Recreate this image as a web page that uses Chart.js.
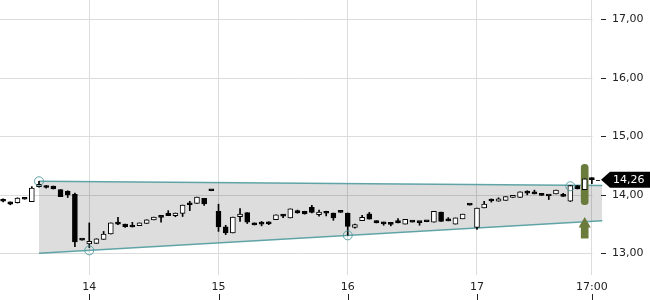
<!DOCTYPE html>
<html>
<head>
<meta charset="utf-8">
<script src="https://cdn.jsdelivr.net/npm/chart.js@4"></script>
<style>
  html, body { margin: 0; padding: 0; background: #fff; }
</style>
</head>
<body>
<canvas id="kurs" width="650" height="300"></canvas>
<script>
// Stundenkerzen (Index 0..82)
const opens = [13.92, 13.88, 13.865, 13.935, 13.885, 14.14, 14.155, 14.15, 14.09, 14.06,
  14.01, 13.235, 13.16, 13.17, 13.24, 13.33, 13.53, 13.50, 13.485, 13.475,
  13.51, 13.57, 13.625, 13.685, 13.645, 13.683, 13.84, 13.855, 13.94, 14.08,
  13.72, 13.455, 13.35, 13.625, 13.695, 13.52, 13.51, 13.54, 13.575, 13.645,
  13.605, 13.73, 13.72, 13.785, 13.66, 13.72, 13.69, 13.71, 13.69, 13.445,
  13.56, 13.675, 13.56, 13.535, 13.505, 13.56, 13.50, 13.545, 13.535, 13.55,
  13.535, 13.705, 13.565, 13.50, 13.59, 13.835, 13.445, 13.775, 13.905, 13.89,
  13.905, 13.955, 13.955, 14.04, 14.05, 14.02, 13.99, 14.015, 13.985, 13.89,
  14.16, 14.09, 14.265];
const highs = [13.93, 13.88, 13.95, 13.935, 14.14, 14.23, 14.16, 14.15, 14.09, 14.07,
  14.03, 13.235, 13.52, 13.25, 13.375, 13.52, 13.615, 13.50, 13.53, 13.52,
  13.575, 13.62, 13.625, 13.73, 13.69, 13.826, 13.89, 13.96, 13.94, 14.08,
  13.84, 13.48, 13.62, 13.765, 13.695, 13.52, 13.545, 13.54, 13.66, 13.665,
  13.76, 13.74, 13.72, 13.82, 13.74, 13.72, 13.69, 13.71, 13.69, 13.50,
  13.65, 13.70, 13.56, 13.535, 13.53, 13.595, 13.58, 13.545, 13.535, 13.55,
  13.72, 13.705, 13.61, 13.605, 13.67, 13.835, 13.775, 13.89, 13.93, 13.95,
  13.97, 13.99, 14.05, 14.07, 14.08, 14.02, 13.99, 14.08, 14.025, 14.16,
  14.16, 14.275, 14.29];
const lows = [13.88, 13.83, 13.86, 13.925, 13.885, 14.13, 14.115, 14.10, 13.97, 13.955,
  13.115, 13.225, 13.10, 13.17, 13.24, 13.33, 13.49, 13.445, 13.45, 13.475,
  13.51, 13.57, 13.535, 13.645, 13.625, 13.63, 13.73, 13.855, 13.82, 14.07,
  13.375, 13.32, 13.35, 13.545, 13.51, 13.485, 13.47, 13.49, 13.575, 13.61,
  13.605, 13.685, 13.67, 13.69, 13.635, 13.64, 13.565, 13.70, 13.31, 13.43,
  13.56, 13.585, 13.52, 13.48, 13.47, 13.52, 13.50, 13.535, 13.48, 13.54,
  13.535, 13.545, 13.555, 13.50, 13.59, 13.825, 13.41, 13.775, 13.875, 13.89,
  13.905, 13.955, 13.955, 14.00, 14.015, 13.99, 13.92, 14.015, 13.975, 13.885,
  14.10, 14.09, 14.19];
const closes = [13.89, 13.84, 13.945, 13.925, 14.115, 14.18, 14.125, 14.10, 13.97, 14.00,
  13.195, 13.225, 13.205, 13.25, 13.33, 13.52, 13.50, 13.455, 13.45, 13.52,
  13.575, 13.62, 13.615, 13.645, 13.69, 13.826, 13.83, 13.96, 13.845, 14.07,
  13.45, 13.35, 13.62, 13.67, 13.535, 13.485, 13.50, 13.505, 13.66, 13.635,
  13.76, 13.69, 13.675, 13.70, 13.705, 13.685, 13.605, 13.70, 13.46, 13.49,
  13.615, 13.585, 13.52, 13.505, 13.495, 13.52, 13.58, 13.535, 13.525, 13.54,
  13.72, 13.545, 13.555, 13.605, 13.67, 13.825, 13.775, 13.843, 13.895, 13.93,
  13.97, 13.99, 14.05, 14.03, 14.015, 13.99, 13.98, 14.08, 13.975, 14.16,
  14.10, 14.275, 14.26];

const dayTicks = [12, 30, 48, 66, 82];
const dayLabels = ["14", "15", "16", "17", "17:00"];
const priceTicks = [13, 14, 15, 16, 17];
const lastPrice = 14.26;

// Trendkanal und Berührungspunkte
const channelTop = [{ x: 5, y: 14.232 }, { x: 83.45, y: 14.16 }];
const channelBottom = [{ x: 5, y: 13.0 }, { x: 83.45, y: 13.558 }];
const touchPoints = [{ x: 5, y: 14.232 }, { x: 12, y: 13.051 }, { x: 48, y: 13.307 }, { x: 79, y: 14.147 }];

// Signal (grüner Balken + Pfeil)
const signalBar = [{ x: 81, y: [13.83, 14.52] }];
const arrowShaft = [{ x: 81, y: [13.26, 13.50] }];
const arrowHead = [{ x: 81, y: 13.502 }];

const wicks = lows.map((l, i) => ({ x: i, y: [l, highs[i]] }));
const bodies = opens.map((o, i) => ({ x: i, y: [o, closes[i]] }));

const fmt = v => v.toFixed(2).replace(".", ",");
const green = "#6b7b3b";
const teal = "rgba(80,155,160,0.9)";

// Gitter, Tick-Striche und Kursmarke
const decor = {
  id: "decor",
  beforeDatasetsDraw(chart) {
    const { ctx, chartArea, scales } = chart;
    const xEnd = Math.round(scales.x.getPixelForValue(82)) + 0.5;
    ctx.save();
    ctx.strokeStyle = "#dcdcdc";
    ctx.lineWidth = 1;
    priceTicks.forEach(v => {
      const y = Math.round(scales.y.getPixelForValue(v)) + 0.5;
      ctx.beginPath();
      ctx.moveTo(chartArea.left, y);
      ctx.lineTo(xEnd, y);
      ctx.stroke();
    });
    ctx.restore();
  },
  afterDraw(chart) {
    const { ctx, scales } = chart;
    ctx.save();
    ctx.strokeStyle = "#222";
    ctx.lineWidth = 1;
    priceTicks.forEach(v => {
      const y = Math.round(scales.y.getPixelForValue(v)) + 0.5;
      ctx.beginPath();
      ctx.moveTo(601, y);
      ctx.lineTo(606, y);
      ctx.stroke();
    });
    dayTicks.forEach(v => {
      const x = Math.round(scales.x.getPixelForValue(v)) + 0.5;
      ctx.beginPath();
      ctx.moveTo(x, 294);
      ctx.lineTo(x, 300);
      ctx.stroke();
    });
    const yp = scales.y.getPixelForValue(lastPrice);
    ctx.beginPath();
    ctx.moveTo(596, Math.round(yp) + 0.5);
    ctx.lineTo(600, Math.round(yp) + 0.5);
    ctx.stroke();
    ctx.fillStyle = "#000";
    ctx.beginPath();
    ctx.moveTo(601, yp);
    ctx.lineTo(610, yp - 8);
    ctx.lineTo(650, yp - 8);
    ctx.lineTo(650, yp + 8);
    ctx.lineTo(610, yp + 8);
    ctx.closePath();
    ctx.fill();
    ctx.fillStyle = "#fff";
    ctx.font = "11px 'DejaVu Sans'";
    ctx.textAlign = "left";
    ctx.textBaseline = "middle";
    ctx.fillText(fmt(lastPrice), 613, yp + 0.5);
    ctx.restore();
  }
};

const noPad = s => { s.paddingTop = 0; s.paddingBottom = 0; s.paddingLeft = 0; s.paddingRight = 0; };

new Chart(document.getElementById("kurs"), {
  type: "bar",
  data: {
    datasets: [
      {
        type: "line", data: channelTop, borderColor: teal, borderWidth: 1.5,
        pointRadius: 0, fill: false, order: 6
      },
      {
        type: "line", data: channelBottom, borderColor: teal, borderWidth: 1.5,
        pointRadius: 0, fill: "-1", backgroundColor: "rgba(0,0,0,0.135)", order: 6
      },
      {
        data: signalBar, grouped: false, barThickness: 7, borderRadius: 4,
        borderSkipped: false, backgroundColor: green, order: 4
      },
      {
        data: arrowShaft, grouped: false, barThickness: 7, borderSkipped: false,
        backgroundColor: green, order: 4
      },
      {
        type: "scatter", data: arrowHead, pointStyle: "triangle", pointRadius: 7,
        backgroundColor: green, borderWidth: 0, order: 4
      },
      {
        data: wicks, grouped: false, barThickness: 1, backgroundColor: "#000",
        borderWidth: 0, order: 2
      },
      {
        data: bodies, grouped: false, barThickness: 5, minBarLength: 2,
        borderSkipped: false, borderColor: "#000", borderWidth: 1,
        backgroundColor: ctx => closes[ctx.dataIndex] >= opens[ctx.dataIndex] ? "#fff" : "#000",
        order: 1
      },
      {
        type: "scatter", data: touchPoints, pointRadius: 4.5, borderWidth: 1,
        borderColor: teal, backgroundColor: "rgba(0,0,0,0)", order: 0
      }
    ]
  },
  options: {
    responsive: false,
    animation: false,
    devicePixelRatio: 1,
    layout: { padding: 0, autoPadding: false },
    plugins: { legend: { display: false }, tooltip: { enabled: false } },
    scales: {
      x: {
        type: "linear", min: -0.432, max: 83.55, offset: false,
        grid: { color: "#dcdcdc", drawTicks: false, offset: false },
        border: { display: false },
        afterBuildTicks: s => { s.ticks = dayTicks.map(v => ({ value: v })); },
        afterFit: s => { s.height = 25; noPad(s); },
        ticks: {
          autoSkip: false, maxRotation: 0, padding: 6, color: "#222",
          font: { family: "DejaVu Sans", size: 11 },
          callback: v => dayLabels[dayTicks.indexOf(v)]
        }
      },
      y: {
        position: "right", min: 12.63, max: 17.33,
        grid: { display: false, drawTicks: false },
        border: { display: false },
        afterBuildTicks: s => { s.ticks = priceTicks.map(v => ({ value: v })); },
        afterFit: s => { s.width = 47; noPad(s); },
        ticks: {
          padding: 9, color: "#222",
          font: { family: "DejaVu Sans", size: 11 },
          callback: v => fmt(v)
        }
      }
    }
  },
  plugins: [decor]
});
</script>
</body>
</html>
